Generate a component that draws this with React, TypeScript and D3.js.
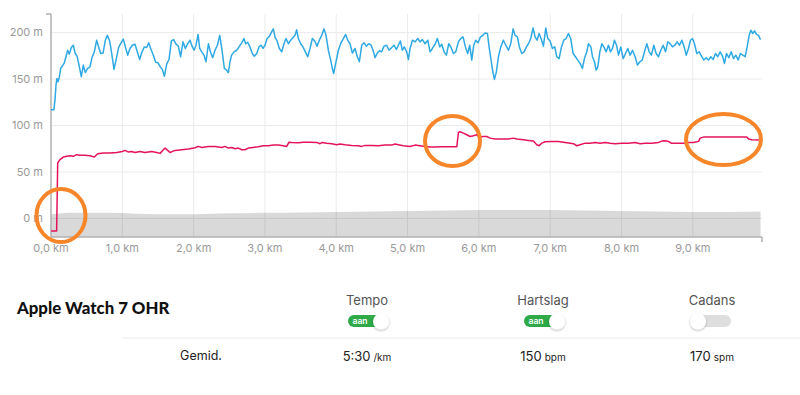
import React from "react";
import * as d3 from "d3";

const xTicks = [0, 1, 2, 3, 4, 5, 6, 7, 8, 9];
const yTicks = [0, 50, 100, 150, 200];
const xDomain = [0, 9.97];
const yDomain = [-20, 220];

const tempoData: [number, number][] = [
  [0,117],[0.04,117],[0.056,127.5],[0.07,143.6],[0.084,150.7],[0.098,147],[0.117,152],[0.136,161.4],[0.159,164],[0.187,167.5],[0.21,174],[0.234,181],[0.257,176.8],[0.285,184],[0.313,186.4],[0.337,178],[0.365,174.6],[0.393,165],[0.425,152.5],[0.453,165],[0.48,157],[0.514,161.4],[0.547,163],[0.575,173],[0.608,179.3],[0.64,191.8],[0.664,185.4],[0.697,177.5],[0.73,178],[0.762,191.8],[0.79,197],[0.823,191],[0.851,177.5],[0.884,160.4],[0.916,172],[0.949,184],[0.982,189],[1.014,193],[1.043,184.6],[1.075,175.7],[1.108,182.9],[1.14,186.4],[1.178,187.5],[1.21,179.3],[1.243,171],[1.276,179.3],[1.309,184.6],[1.342,184],[1.37,189],[1.403,181.8],[1.435,175.7],[1.468,168],[1.5,167.5],[1.533,163],[1.561,160.4],[1.59,153],[1.622,166],[1.655,171],[1.688,191],[1.72,192.5],[1.753,187.5],[1.786,185.4],[1.818,174],[1.851,190],[1.884,182.9],[1.917,188],[1.95,191.8],[1.978,185.4],[2.006,181],[2.034,186.4],[2.062,198],[2.085,182.9],[2.113,179.3],[2.146,175.7],[2.174,168.6],[2.207,188],[2.235,179.3],[2.267,173],[2.3,181],[2.333,186.4],[2.366,197],[2.398,181],[2.431,161.4],
  [2.463,159.6],[2.487,156.8],[2.51,168.6],[2.533,175.7],[2.566,179.3],[2.604,181],[2.636,184.6],[2.674,189],[2.706,193.6],[2.73,188],[2.758,189.6],[2.79,184.6],[2.823,177.5],[2.851,174.6],[2.884,177.5],[2.917,184.6],[2.945,186.4],[2.973,182.9],[3.001,186.4],[3.03,193.6],[3.062,196],[3.094,200.7],[3.118,204],[3.141,195],[3.17,191],[3.202,182.9],[3.235,179.3],[3.267,188],[3.296,193.6],[3.328,188],[3.361,191.8],[3.394,194.6],[3.422,197],[3.445,203],[3.469,193.6],[3.501,188],[3.534,184.6],[3.567,179.3],[3.599,174],[3.632,182.9],[3.665,193.6],[3.698,191],[3.73,185.4],[3.763,191.8],[3.796,197],[3.828,204],[3.857,197],[3.889,181],[3.922,170.4],[3.945,161.4],[3.964,156],[3.992,166.8],[4.03,181],[4.067,189],[4.1,193.6],[4.132,198],[4.16,191.8],[4.193,188],[4.226,178],[4.263,182.9],[4.296,174],[4.324,168.6],[4.357,186.4],[4.39,189],[4.422,185.4],[4.455,188],[4.488,186.4],[4.516,181],[4.544,173],[4.572,177.5],[4.605,180.4],[4.637,179.3],[4.67,185.4],[4.707,186.4],[4.74,181],[4.778,184],[4.81,186.4],[4.843,181.8],[4.871,186.4],[4.899,191],[4.927,181],[4.955,184.6],
  [4.988,179.3],[5.012,171],[5.035,182.9],[5.068,191.8],[5.105,190],[5.143,193.6],[5.175,190],[5.208,192.5],[5.245,188],[5.283,191.8],[5.316,179.3],[5.348,182.9],[5.386,187.5],[5.418,193.6],[5.451,184.6],[5.479,187.5],[5.512,179.3],[5.545,175.7],[5.577,188],[5.61,184],[5.643,177.5],[5.676,179.3],[5.713,190],[5.746,193.6],[5.778,195.4],[5.811,184.6],[5.844,177.5],[5.872,186.4],[5.9,170.4],[5.928,186.4],[5.956,191.8],[5.989,189],[6.022,195.4],[6.054,197],[6.087,199.6],[6.12,199],[6.143,184.6],[6.171,170.4],[6.195,158],[6.218,149.6],[6.246,158],[6.274,174],[6.307,184.6],[6.344,191.8],[6.377,186.4],[6.414,181],[6.447,188],[6.48,204],[6.508,197],[6.54,195.4],[6.568,184.6],[6.601,177.5],[6.634,179.3],[6.662,184],[6.695,188],[6.727,193.6],[6.76,205],[6.788,195.4],[6.816,191.8],[6.844,199],[6.872,193.6],[6.905,185.4],[6.938,205],[6.966,193.6],[6.999,191],[7.031,182.9],[7.064,184.6],[7.092,174],[7.125,172],[7.158,184.6],[7.19,191.8],[7.223,193.6],[7.256,199],[7.288,193.6],[7.321,177.5],[7.354,174],[7.387,170.4],[7.419,166.8],[7.452,161.4],[7.48,172],
  [7.513,179.3],[7.537,188],[7.57,184.6],[7.593,174],[7.621,168.6],[7.644,159.6],[7.668,163],[7.696,179.3],[7.724,188],[7.752,184.6],[7.785,179.3],[7.817,186.4],[7.845,179.3],[7.873,182.9],[7.901,191.8],[7.93,186.4],[7.958,175.7],[7.99,184.6],[8.023,172],[8.056,177.5],[8.088,182.9],[8.121,175.7],[8.154,181],[8.191,174],[8.224,165],[8.257,168.6],[8.29,170.4],[8.322,179.3],[8.355,188],[8.388,179.3],[8.42,175.7],[8.453,186.4],[8.486,177.5],[8.518,174],[8.551,181],[8.584,186.4],[8.617,179.3],[8.649,190],[8.682,188],[8.715,184.6],[8.748,186.4],[8.78,190],[8.813,186.4],[8.846,191.8],[8.879,184.6],[8.907,175.7],[8.939,182.9],[8.967,191.8],[8.995,193.6],[9.023,188],[9.056,177.5],[9.089,179.3],[9.122,174.6],[9.154,170.4],[9.187,173],[9.22,170.4],[9.252,174],[9.285,171],[9.318,177.5],[9.35,174],[9.383,179.3],[9.416,174.6],[9.444,166.8],[9.472,177.5],[9.505,173],[9.538,179.3],[9.57,172],[9.603,175.7],[9.636,170.4],[9.668,177.5],[9.701,175.7],[9.734,174],[9.762,184.6],[9.79,197],[9.813,202.5],[9.841,199],[9.865,201.8],[9.893,198],[9.921,197],[9.949,192.5],
];

const hartslagData: [number, number][] = [
  [0,-13.6],[0.079,-13.6],[0.094,59.6],[0.126,63.2],[0.173,66],[0.22,66.8],[0.266,67.5],[0.313,66.8],[0.36,68.6],[0.407,67.9],[0.477,67.9],[0.547,67.5],[0.608,66],[0.654,69.6],[0.734,70.4],[0.828,70.4],[0.921,71],[1.0,72.1],[1.038,73.2],[1.085,71.4],[1.131,72.1],[1.178,71],[1.248,72.1],[1.318,71],[1.412,72.1],[1.482,71],[1.529,70],[1.575,73.9],[1.6,75.7],[1.636,73.2],[1.668,71],[1.739,73.2],[1.833,73.9],[1.926,74.6],[2.02,76.1],[2.066,77.5],[2.113,76.4],[2.207,77.5],[2.3,77.5],[2.394,76.4],[2.44,77.5],[2.487,75.7],[2.534,76.4],[2.58,75],[2.627,75.7],[2.674,73.9],[2.72,73.9],[2.767,75.7],[2.837,76.4],[2.907,77.1],[2.978,78.2],[3.048,78.2],[3.118,78.9],[3.188,78.9],[3.258,78.2],[3.305,77.5],[3.338,82.1],[3.375,81.8],[3.469,81.4],[3.539,82.1],[3.632,82.1],[3.726,81.8],[3.772,80.4],[3.805,81.8],[3.866,81],[3.936,80.4],[4.006,79.3],[4.053,80],[4.123,79.3],[4.216,78.6],[4.31,78.2],[4.357,77.5],[4.404,78.6],[4.497,78.6],[4.59,78.2],[4.684,78.9],[4.778,78.9],[4.824,80],[4.871,79.3],[4.941,78.2],[5.035,77.5],[5.105,78.9],[5.175,78.2],[5.245,77.5],[5.316,76.8],[5.386,76.8],[5.479,77.1],[5.573,77.1],[5.69,77.1],[5.713,92.5],[5.736,93.2],[5.783,91.8],[5.83,90],[5.877,88.2],[5.923,88.9],[5.97,90],[6.003,87.5],[6.064,88.2],[6.11,88.2],[6.157,86.4],[6.227,85.4],[6.321,85.4],[6.414,85.4],[6.484,86.4],[6.531,85.4],[6.625,84.6],[6.695,83.9],[6.765,83.2],[6.812,79.3],[6.844,78.2],[6.882,81],[6.929,82.5],[7.022,82.9],[7.115,82.9],[7.209,81.8],[7.279,81],[7.326,80.4],[7.373,78.2],[7.419,79.3],[7.49,81],[7.56,81],[7.63,81.8],[7.7,81],[7.77,81.8],[7.84,81],[7.91,80.4],[8.004,81],[8.098,81],[8.191,81.8],[8.261,80.4],[8.332,81],[8.425,81],[8.519,81.8],[8.565,83.2],[8.612,83.6],[8.659,82.9],[8.696,81],[8.776,81],[8.869,81],[8.939,81.8],[9.01,81.8],[9.08,82.9],[9.103,86.4],[9.15,87.5],[9.757,87.5],[9.781,85.4],[9.827,84.6],[9.949,84.3],
];

const elevationData: [number, number][] = [
  [0,4.5],[0.3,6],[0.8,6],[1.2,5],[1.5,4.5],[2.0,4.5],[2.5,5.5],[3.0,6],[3.5,6.5],[4.0,7],[4.5,7.5],[5.0,8],[5.5,8.5],[6.0,9],[6.5,9],[7.0,9],[7.5,8.5],[8.0,8],[8.5,7.5],[9.0,7],[9.5,7],[9.95,7.5],
];

const statLabels = ["Tempo", "Hartslag", "Cadans"];
const statOn = [true, true, false];
const statValues = ["5:30", "150", "170"];
const statUnits = ["/km", "bpm", "spm"];
const deviceName = "Apple Watch 7 OHR";
const rowLabel = "Gemid.";

export default function App() {
  const x = d3.scaleLinear().domain(xDomain).range([51, 762]);
  const y = d3.scaleLinear().domain(yDomain).range([237, 14]);
  const line = d3.line<[number, number]>().x((d) => x(d[0])).y((d) => y(d[1]));
  const area = d3
    .area<[number, number]>()
    .x((d) => x(d[0]))
    .y0(y(yDomain[0]))
    .y1((d) => y(d[1]))
    .curve(d3.curveMonotoneX);
  const fontAxis = "Inter, Roboto, sans-serif";
  const colX = [367, 543, 712];
  return (
    <div style={{ position: "absolute", left: 0, top: 0 }}>
      <style>{`body{margin:0}`}</style>
      <svg width={800} height={395} style={{ display: "block", background: "#fff" }}>
        <defs>
          <filter id="knobShadow" x="-50%" y="-50%" width="200%" height="200%">
            <feDropShadow dx="0" dy="1" stdDeviation="0.8" floodColor="#000" floodOpacity="0.3" />
          </filter>
        </defs>
        {yTicks.map((t) => (
          <line key={"gy" + t} x1={x(0)} x2={x(xDomain[1])} y1={y(t)} y2={y(t)} stroke="#ebebeb" strokeWidth={1} />
        ))}
        {xTicks.filter((t) => t > 0).map((t) => (
          <line key={"gx" + t} x1={x(t)} x2={x(t)} y1={y(yDomain[1])} y2={y(yDomain[0])} stroke="#ebebeb" strokeWidth={1} />
        ))}
        <path d={area(elevationData) || ""} fill="rgba(0,0,0,0.15)" />
        <line x1={x(0)} x2={x(0)} y1={y(yDomain[1])} y2={y(yDomain[0])} stroke="#b0b0b0" strokeWidth={1.5} />
        <line x1={x(0) - 5} x2={x(0)} y1={y(yDomain[1])} y2={y(yDomain[1])} stroke="#b0b0b0" strokeWidth={1.5} />
        <line x1={x(0)} x2={x(xDomain[1])} y1={y(yDomain[0])} y2={y(yDomain[0])} stroke="#b0b0b0" strokeWidth={1.5} />
        <line x1={x(xDomain[1])} x2={x(xDomain[1])} y1={y(yDomain[0])} y2={y(yDomain[0]) + 5} stroke="#b0b0b0" strokeWidth={1.5} />
        {yTicks.map((t) => (
          <text key={"ty" + t} x={43} y={y(t)} dy="0.35em" textAnchor="end" fontFamily={fontAxis} fontSize={11} fill="#9a9a9a">
            {t} m
          </text>
        ))}
        {xTicks.map((t) => (
          <text key={"tx" + t} x={x(t)} y={252} textAnchor="middle" fontFamily={fontAxis} fontSize={11} fill="#9a9a9a">
            {t.toFixed(1).replace(".", ",")} km
          </text>
        ))}
        <path d={line(tempoData) || ""} fill="none" stroke="#2ea9e3" strokeWidth={1.5} strokeLinejoin="round" />
        <path d={line(hartslagData) || ""} fill="none" stroke="#e4145b" strokeWidth={1.5} strokeLinejoin="round" />
        <ellipse cx={61} cy={215.5} rx={24.5} ry={26.5} fill="none" stroke="#f7862a" strokeWidth={4} />
        <ellipse cx={452.5} cy={141} rx={27.5} ry={25} fill="none" stroke="#f7862a" strokeWidth={4} />
        <ellipse cx={723.5} cy={139.5} rx={37.5} ry={25.5} fill="none" stroke="#f7862a" strokeWidth={4} />

        <text x={17} y={314} fontFamily="Lato, 'Open Sans', sans-serif" fontWeight={900} fontSize={16.8} fill="#111">
          {deviceName}
        </text>
        <line x1={122} x2={800} y1={338} y2={338} stroke="#ececec" strokeWidth={1} />
        <text x={201} y={360} textAnchor="middle" fontFamily={fontAxis} fontSize={12.5} fill="#222">
          {rowLabel}
        </text>
        {statLabels.map((lab, i) => {
          const cx = colX[i];
          const on = statOn[i];
          const pillX = cx - 19;
          const knobX = on ? cx + 14 : cx - 14;
          return (
            <g key={lab}>
              <text x={cx} y={305} textAnchor="middle" fontFamily={fontAxis} fontSize={13} fill="#555">
                {lab}
              </text>
              <rect x={pillX} y={315} width={38} height={12} rx={6} fill={on ? "#2eaa48" : "#dedede"} />
              {on && (
                <text x={pillX + 12} y={324} textAnchor="middle" fontFamily={fontAxis} fontSize={8.5} fontWeight={600} fill="#fff">
                  aan
                </text>
              )}
              <circle cx={knobX} cy={321.5} r={8} fill="#fff" filter="url(#knobShadow)" />
              <text x={cx} y={361} textAnchor="middle" fontFamily={fontAxis} fill="#222">
                <tspan fontSize={13}>{statValues[i]}</tspan>
                <tspan fontSize={10} dx={3}>{statUnits[i]}</tspan>
              </text>
            </g>
          );
        })}
      </svg>
    </div>
  );
}
